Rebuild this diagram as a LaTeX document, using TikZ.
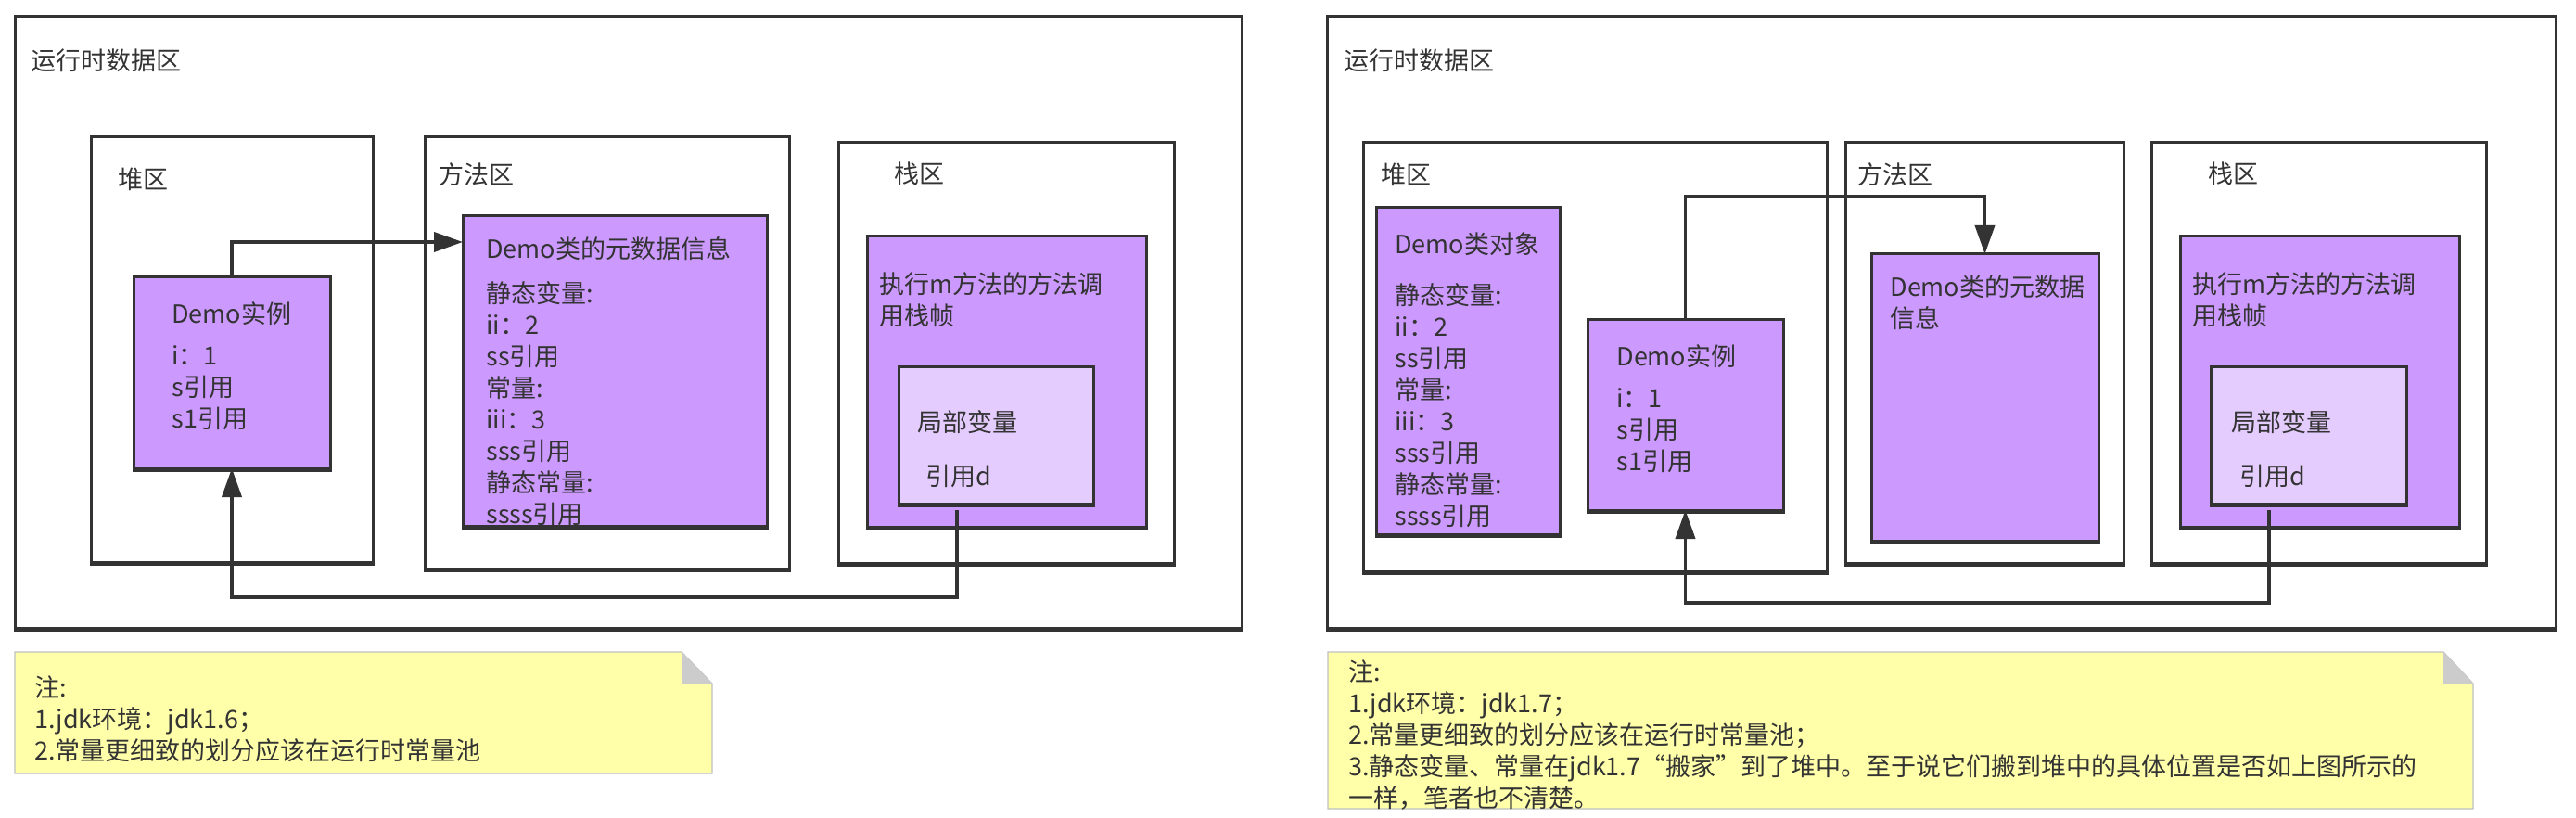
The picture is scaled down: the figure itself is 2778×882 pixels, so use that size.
\documentclass[tikz,border=0pt]{standalone}
\usepackage{fontspec}
\setmainfont{Noto Sans CJK SC}
\usetikzlibrary{fit,arrows.meta}
\definecolor{bd}{HTML}{333333}
\definecolor{purp}{HTML}{CC99FF}
\definecolor{lpurp}{HTML}{E5CCFF}
\definecolor{notey}{HTML}{FFFFAA}
\definecolor{noteb}{HTML}{C0C0C0}
\definecolor{foldg}{HTML}{CCCCCC}
\tikzset{
  zone/.style={draw=bd, line width=1.5pt, fill=white, inner sep=0pt, outer sep=0pt,
    preaction={draw=bd, line width=1.5pt, transform canvas={yshift=-1pt}}},
  pbox/.style={zone, fill=purp},
  lbox/.style={zone, fill=lpurp},
  txt/.style={font=\fontsize{13.5pt}{17pt}\selectfont, text=bd, inner sep=0pt, align=left},
  conn/.style={draw=bd, line width=1.9pt},
  arr/.style={conn, -{Triangle[length=15.5pt,width=10.5pt]}},
  notebox/.style={draw=noteb, line width=0.6pt, fill=notey},
}
\begin{document}
\begin{tikzpicture}[x=0.5pt,y=-0.5pt]
\useasboundingbox (0,0) rectangle (2778,882);
% ---------------- left diagram ----------------
\node[zone, fit={(16,18) (1339,677)}] (Lrun) {};
\node[zone, fit={(98,148) (402,606)}] (Lheap) {};
\node[zone, fit={(458,148) (851,613)}] (Lmeth) {};
\node[zone, fit={(904,154) (1266,607)}] (Lstack) {};
\node[pbox, fit={(144,299) (356,505)}] (Linst) {};
\node[pbox, fit={(499,233) (827,567)}] (Lmeta) {};
\node[pbox, fit={(935,255) (1236,568)}] (Lframe) {};
\node[lbox, fit={(969,395) (1179,543)}] (Llocal) {};

\node[txt, anchor=west] (LtRun) at (33,65) {运行时数据区};
\node[txt, anchor=west] (LtHeap) at (127,193) {堆区};
\node[txt, anchor=west] (LtMeth) at (473,188) {方法区};
\node[txt, anchor=west] (LtStack) at (964,187) {栈区};
\node[txt, anchor=north west] (LtInst) at (185,325) {Demo实例\\[5.5pt]i：1\\s引用\\s1引用};
\node[txt, anchor=north west] (LtMeta) at (524,255) {Demo类的元数据信息\\[7pt]静态变量:\\ii：2\\ss引用\\常量:\\iii：3\\sss引用\\静态常量:\\ssss引用};
\node[txt, anchor=north west] (LtFrame) at (948,293) {执行m方法的方法调\\用栈帧};
\node[txt, anchor=west] (LtLocal) at (989,455) {局部变量};
\node[txt, anchor=west] (LtRef) at (998,513) {引用d};

\coordinate (LaY) at (0,261);
\draw[arr] (Linst.north) |- (Lmeta.west |- LaY);
\coordinate (Ld) at (1032,550);
\coordinate (LdB) at (1032,644);
\draw[arr] (Ld) -- (LdB) -| (Linst.south);

\draw[notebox] (16,703) -- (735,703) -- (768,737) -- (768,834) -- (16,834) -- cycle;
\fill[foldg] (735,703) -- (735,737) -- (768,737) -- cycle;
\node[txt, anchor=north west] (LtNote) at (37,728) {注:\\1.jdk环境：jdk1.6；\\2.常量更细致的划分应该在运行时常量池};

% ---------------- right diagram ----------------
\node[zone, fit={(1431,18) (2756,677)}] (Rrun) {};
\node[zone, fit={(1470,154) (1970,616)}] (Rheap) {};
\node[zone, fit={(1990,154) (2290,607)}] (Rmeth) {};
\node[zone, fit={(2320,154) (2681,607)}] (Rstack) {};
\node[pbox, fit={(1484,224) (1682,576)}] (Robj) {};
\node[pbox, fit={(1712,344) (1923,550)}] (Rinst) {};
\node[pbox, fit={(2018,274) (2263,583)}] (Rmeta) {};
\node[pbox, fit={(2351,255) (2652,568)}] (Rframe) {};
\node[lbox, fit={(2384,395) (2595,543)}] (Rlocal) {};

\node[txt, anchor=west] (RtRun) at (1449,65) {运行时数据区};
\node[txt, anchor=west] (RtHeap) at (1489,188) {堆区};
\node[txt, anchor=west] (RtMeth) at (2003,188) {方法区};
\node[txt, anchor=west] (RtStack) at (2381,187) {栈区};
\node[txt, anchor=north west] (RtObj) at (1504,250) {Demo类对象\\[10.5pt]静态变量:\\ii：2\\ss引用\\常量:\\iii：3\\sss引用\\静态常量:\\ssss引用};
\node[txt, anchor=north west] (RtInst) at (1743,371) {Demo实例\\[5.5pt]i：1\\s引用\\s1引用};
\node[txt, anchor=north west] (RtMeta) at (2038,296) {Demo类的元数据\\信息};
\node[txt, anchor=north west] (RtFrame) at (2364,293) {执行m方法的方法调\\用栈帧};
\node[txt, anchor=west] (RtLocal) at (2406,455) {局部变量};
\node[txt, anchor=west] (RtRef) at (2415,513) {引用d};

\coordinate (RaY) at (0,212);
\draw[arr] (Rinst.north) -- (Rinst.north |- RaY) -| (Rmeta.north);
\coordinate (Rd) at (2447,550);
\coordinate (RdB) at (2447,650);
\draw[arr] (Rd) -- (RdB) -| (Rinst.south);

\draw[notebox] (1432,703) -- (2635,703) -- (2667,737) -- (2667,872) -- (1432,872) -- cycle;
\fill[foldg] (2635,703) -- (2635,737) -- (2667,737) -- cycle;
\node[txt, anchor=north west] (RtNote) at (1454,711) {注:\\1.jdk环境：jdk1.7；\\2.常量更细致的划分应该在运行时常量池；\\3.静态变量、常量在jdk1.7“搬家”到了堆中。至于说它们搬到堆中的具体位置是否如上图所示的\\一样，笔者也不清楚。};
\end{tikzpicture}
\end{document}
